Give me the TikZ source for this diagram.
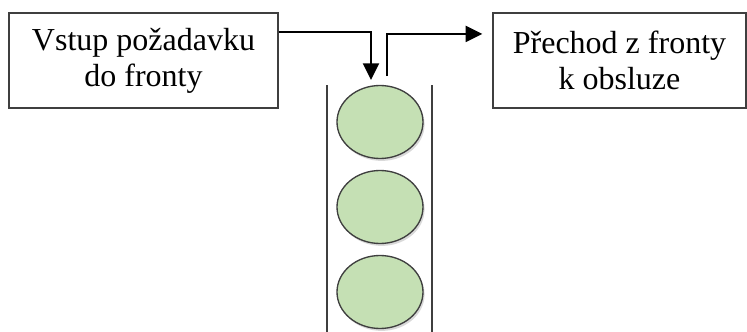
\documentclass[tikz,border=0pt]{standalone}
\usepackage{fontspec}
\setmainfont{Liberation Serif}
\usetikzlibrary{shapes.geometric, arrows.meta, shadows}
\definecolor{queuegreen}{HTML}{C5E0B4}
\definecolor{edgegray}{HTML}{3F3F3F}
\tikzstyle{process} = [rectangle, minimum height=71.25pt, text centered, align=center, draw=edgegray, line width=1pt, font=\fontsize{24}{27}\selectfont]
\tikzstyle{customer} = [ellipse, minimum width=64.5pt, minimum height=54.75pt, draw=edgegray, line width=1pt, fill=queuegreen, drop shadow={shadow xshift=1.2pt, shadow yshift=-1.8pt, opacity=0.3}]
\tikzstyle{wall} = [draw=edgegray, line width=1.5pt]
\tikzstyle{arrow} = [line width=1.5pt, -{Triangle[length=12.5pt, width=12pt]}]

\begin{document}
\begin{tikzpicture}[x=0.75pt, y=-0.75pt, node distance=63.75pt]
        \useasboundingbox (0,0) rectangle (747,332);
        \node (entry) [process, minimum width=201.75pt] at (143.5,60.5) {Vstup požadavku\\do fronty};
        \node (service) [process, minimum width=189.75pt] at (619.5,60.5) {Přechod z fronty\\k obsluze};

        % queue
        \node (c1) [customer] at (380,122) {};
        \node (c2) [customer, below of=c1] {};
        \node (c3) [customer, below of=c2] {};
        \draw [wall] (327,85) -- (327,332);
        \draw [wall] (432,85) -- (432,332);

        % arrows in and out
        \coordinate (drop) at (371,80);
        \coordinate (pick) at (387,76);
        \draw [arrow] ([yshift=21.4pt]entry.east) -| (drop);
        \draw [arrow] (pick) |- ([xshift=-7.5pt, yshift=19.9pt]service.west);
    \end{tikzpicture}
\end{document}
